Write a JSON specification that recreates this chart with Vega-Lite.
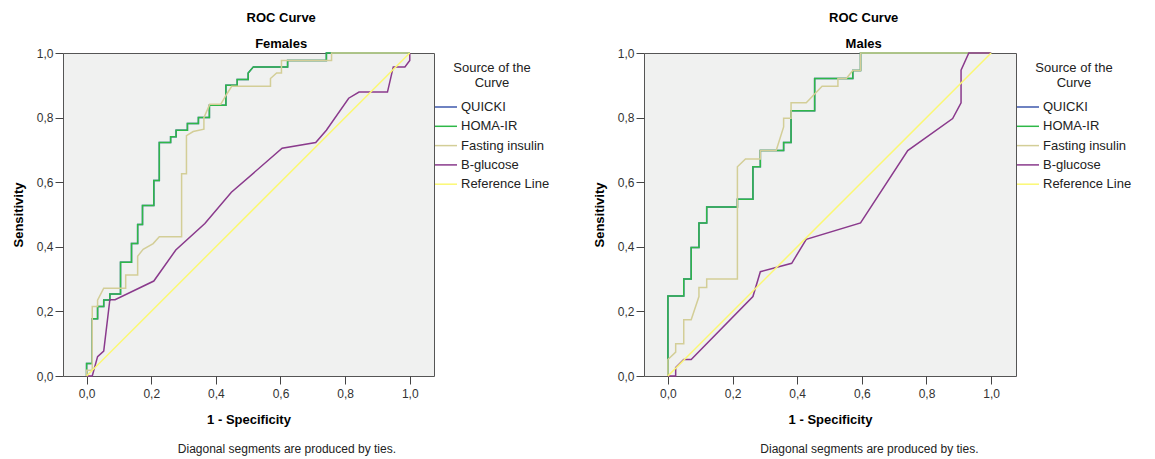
{
  "$schema": "https://vega.github.io/schema/vega-lite/v6.json",
  "padding": {"left": 11, "top": 11, "right": 5, "bottom": 2},
  "config": {
    "font": "Liberation Sans",
    "view": {"fill": "#F0F1F0", "stroke": "#555555", "strokeWidth": 1},
    "axis": {
      "labelFont": "Liberation Sans", "labelFontSize": 12, "labelColor": "#333333",
      "titleFont": "Liberation Sans", "titleFontSize": 13, "titleFontWeight": "bold", "titleColor": "#000000",
      "tickColor": "#444444", "tickSize": 8, "domain": false, "grid": false, "labelPadding": 2,
      "labelExpr": "replace(format(datum.value, '.1f'), '.', ',')"
    },
    "axisX": {"titlePadding": 14, "labelPadding": 4},
    "axisY": {"titlePadding": 11},
    "legend": {
      "orient": "none", "legendY": 9,
      "symbolType": "stroke", "symbolSize": 484, "symbolStrokeWidth": 1.5,
      "labelFont": "Liberation Sans", "labelFontSize": 13, "labelColor": "#222222", "labelOffset": 3,
      "titleFont": "Liberation Sans", "titleFontSize": 13, "titleFontWeight": "normal", "titleColor": "#222222",
      "titleAlign": "center", "titleAnchor": "middle", "titleLineHeight": 15, "titlePadding": 5,
      "rowPadding": 0.3, "padding": 0
    },
    "title": {"font": "Liberation Sans", "fontSize": 13, "fontWeight": "bold", "color": "#000000",
      "subtitleFont": "Liberation Sans", "subtitleFontSize": 13, "subtitleFontWeight": "bold", "subtitleColor": "#000000"}
  },
  "datasets": {
    "females": [
      {"s": "QUICKI", "i": 0, "x": 0, "y": 0}, {"s": "QUICKI", "i": 1, "x": 0, "y": 0.039}, {"s": "QUICKI", "i": 2, "x": 0.0175, "y": 0.039}, {"s": "QUICKI", "i": 3, "x": 0.0175, "y": 0.177}, {"s": "QUICKI", "i": 4, "x": 0.034, "y": 0.177}, {"s": "QUICKI", "i": 5, "x": 0.034, "y": 0.215}, {"s": "QUICKI", "i": 6, "x": 0.053, "y": 0.215}, {"s": "QUICKI", "i": 7, "x": 0.053, "y": 0.235}, {"s": "QUICKI", "i": 8, "x": 0.072, "y": 0.235}, {"s": "QUICKI", "i": 9, "x": 0.072, "y": 0.254}, {"s": "QUICKI", "i": 10, "x": 0.105, "y": 0.254}, {"s": "QUICKI", "i": 11, "x": 0.105, "y": 0.352}, {"s": "QUICKI", "i": 12, "x": 0.139, "y": 0.352}, {"s": "QUICKI", "i": 13, "x": 0.139, "y": 0.41}, {"s": "QUICKI", "i": 14, "x": 0.158, "y": 0.41}, {"s": "QUICKI", "i": 15, "x": 0.158, "y": 0.469}, {"s": "QUICKI", "i": 16, "x": 0.173, "y": 0.469}, {"s": "QUICKI", "i": 17, "x": 0.173, "y": 0.528}, {"s": "QUICKI", "i": 18, "x": 0.208, "y": 0.528}, {"s": "QUICKI", "i": 19, "x": 0.208, "y": 0.605}, {"s": "QUICKI", "i": 20, "x": 0.225, "y": 0.605}, {"s": "QUICKI", "i": 21, "x": 0.225, "y": 0.723}, {"s": "QUICKI", "i": 22, "x": 0.26, "y": 0.723}, {"s": "QUICKI", "i": 23, "x": 0.26, "y": 0.741}, {"s": "QUICKI", "i": 24, "x": 0.277, "y": 0.741}, {"s": "QUICKI", "i": 25, "x": 0.277, "y": 0.761}, {"s": "QUICKI", "i": 26, "x": 0.312, "y": 0.761}, {"s": "QUICKI", "i": 27, "x": 0.312, "y": 0.782}, {"s": "QUICKI", "i": 28, "x": 0.346, "y": 0.782}, {"s": "QUICKI", "i": 29, "x": 0.346, "y": 0.8}, {"s": "QUICKI", "i": 30, "x": 0.38, "y": 0.8}, {"s": "QUICKI", "i": 31, "x": 0.38, "y": 0.838}, {"s": "QUICKI", "i": 32, "x": 0.431, "y": 0.838}, {"s": "QUICKI", "i": 33, "x": 0.431, "y": 0.9}, {"s": "QUICKI", "i": 34, "x": 0.466, "y": 0.9}, {"s": "QUICKI", "i": 35, "x": 0.466, "y": 0.918}, {"s": "QUICKI", "i": 36, "x": 0.5, "y": 0.918}, {"s": "QUICKI", "i": 37, "x": 0.5, "y": 0.938}, {"s": "QUICKI", "i": 38, "x": 0.516, "y": 0.957}, {"s": "QUICKI", "i": 39, "x": 0.622, "y": 0.957}, {"s": "QUICKI", "i": 40, "x": 0.622, "y": 0.977}, {"s": "QUICKI", "i": 41, "x": 0.742, "y": 0.977}, {"s": "QUICKI", "i": 42, "x": 0.742, "y": 1}, {"s": "QUICKI", "i": 43, "x": 1, "y": 1},
      {"s": "HOMA-IR", "i": 0, "x": 0, "y": 0}, {"s": "HOMA-IR", "i": 1, "x": 0, "y": 0.039}, {"s": "HOMA-IR", "i": 2, "x": 0.0175, "y": 0.039}, {"s": "HOMA-IR", "i": 3, "x": 0.0175, "y": 0.177}, {"s": "HOMA-IR", "i": 4, "x": 0.034, "y": 0.177}, {"s": "HOMA-IR", "i": 5, "x": 0.034, "y": 0.215}, {"s": "HOMA-IR", "i": 6, "x": 0.053, "y": 0.215}, {"s": "HOMA-IR", "i": 7, "x": 0.053, "y": 0.235}, {"s": "HOMA-IR", "i": 8, "x": 0.072, "y": 0.235}, {"s": "HOMA-IR", "i": 9, "x": 0.072, "y": 0.254}, {"s": "HOMA-IR", "i": 10, "x": 0.105, "y": 0.254}, {"s": "HOMA-IR", "i": 11, "x": 0.105, "y": 0.352}, {"s": "HOMA-IR", "i": 12, "x": 0.139, "y": 0.352}, {"s": "HOMA-IR", "i": 13, "x": 0.139, "y": 0.41}, {"s": "HOMA-IR", "i": 14, "x": 0.158, "y": 0.41}, {"s": "HOMA-IR", "i": 15, "x": 0.158, "y": 0.469}, {"s": "HOMA-IR", "i": 16, "x": 0.173, "y": 0.469}, {"s": "HOMA-IR", "i": 17, "x": 0.173, "y": 0.528}, {"s": "HOMA-IR", "i": 18, "x": 0.208, "y": 0.528}, {"s": "HOMA-IR", "i": 19, "x": 0.208, "y": 0.605}, {"s": "HOMA-IR", "i": 20, "x": 0.225, "y": 0.605}, {"s": "HOMA-IR", "i": 21, "x": 0.225, "y": 0.723}, {"s": "HOMA-IR", "i": 22, "x": 0.26, "y": 0.723}, {"s": "HOMA-IR", "i": 23, "x": 0.26, "y": 0.741}, {"s": "HOMA-IR", "i": 24, "x": 0.277, "y": 0.741}, {"s": "HOMA-IR", "i": 25, "x": 0.277, "y": 0.761}, {"s": "HOMA-IR", "i": 26, "x": 0.312, "y": 0.761}, {"s": "HOMA-IR", "i": 27, "x": 0.312, "y": 0.782}, {"s": "HOMA-IR", "i": 28, "x": 0.346, "y": 0.782}, {"s": "HOMA-IR", "i": 29, "x": 0.346, "y": 0.8}, {"s": "HOMA-IR", "i": 30, "x": 0.38, "y": 0.8}, {"s": "HOMA-IR", "i": 31, "x": 0.38, "y": 0.838}, {"s": "HOMA-IR", "i": 32, "x": 0.431, "y": 0.838}, {"s": "HOMA-IR", "i": 33, "x": 0.431, "y": 0.9}, {"s": "HOMA-IR", "i": 34, "x": 0.466, "y": 0.9}, {"s": "HOMA-IR", "i": 35, "x": 0.466, "y": 0.918}, {"s": "HOMA-IR", "i": 36, "x": 0.5, "y": 0.918}, {"s": "HOMA-IR", "i": 37, "x": 0.5, "y": 0.938}, {"s": "HOMA-IR", "i": 38, "x": 0.516, "y": 0.957}, {"s": "HOMA-IR", "i": 39, "x": 0.622, "y": 0.957}, {"s": "HOMA-IR", "i": 40, "x": 0.622, "y": 0.977}, {"s": "HOMA-IR", "i": 41, "x": 0.742, "y": 0.977}, {"s": "HOMA-IR", "i": 42, "x": 0.742, "y": 1}, {"s": "HOMA-IR", "i": 43, "x": 1, "y": 1},
      {"s": "Fasting insulin", "i": 0, "x": 0, "y": 0}, {"s": "Fasting insulin", "i": 1, "x": 0, "y": 0.018}, {"s": "Fasting insulin", "i": 2, "x": 0.0175, "y": 0.018}, {"s": "Fasting insulin", "i": 3, "x": 0.0175, "y": 0.215}, {"s": "Fasting insulin", "i": 4, "x": 0.034, "y": 0.215}, {"s": "Fasting insulin", "i": 5, "x": 0.034, "y": 0.235}, {"s": "Fasting insulin", "i": 6, "x": 0.053, "y": 0.272}, {"s": "Fasting insulin", "i": 7, "x": 0.121, "y": 0.272}, {"s": "Fasting insulin", "i": 8, "x": 0.121, "y": 0.313}, {"s": "Fasting insulin", "i": 9, "x": 0.158, "y": 0.313}, {"s": "Fasting insulin", "i": 10, "x": 0.158, "y": 0.371}, {"s": "Fasting insulin", "i": 11, "x": 0.175, "y": 0.392}, {"s": "Fasting insulin", "i": 12, "x": 0.206, "y": 0.41}, {"s": "Fasting insulin", "i": 13, "x": 0.225, "y": 0.431}, {"s": "Fasting insulin", "i": 14, "x": 0.294, "y": 0.431}, {"s": "Fasting insulin", "i": 15, "x": 0.294, "y": 0.626}, {"s": "Fasting insulin", "i": 16, "x": 0.309, "y": 0.626}, {"s": "Fasting insulin", "i": 17, "x": 0.309, "y": 0.744}, {"s": "Fasting insulin", "i": 18, "x": 0.33, "y": 0.757}, {"s": "Fasting insulin", "i": 19, "x": 0.363, "y": 0.764}, {"s": "Fasting insulin", "i": 20, "x": 0.363, "y": 0.8}, {"s": "Fasting insulin", "i": 21, "x": 0.381, "y": 0.841}, {"s": "Fasting insulin", "i": 22, "x": 0.415, "y": 0.841}, {"s": "Fasting insulin", "i": 23, "x": 0.432, "y": 0.87}, {"s": "Fasting insulin", "i": 24, "x": 0.449, "y": 0.897}, {"s": "Fasting insulin", "i": 25, "x": 0.569, "y": 0.897}, {"s": "Fasting insulin", "i": 26, "x": 0.569, "y": 0.921}, {"s": "Fasting insulin", "i": 27, "x": 0.588, "y": 0.938}, {"s": "Fasting insulin", "i": 28, "x": 0.603, "y": 0.938}, {"s": "Fasting insulin", "i": 29, "x": 0.603, "y": 0.977}, {"s": "Fasting insulin", "i": 30, "x": 0.758, "y": 0.977}, {"s": "Fasting insulin", "i": 31, "x": 0.758, "y": 1}, {"s": "Fasting insulin", "i": 32, "x": 1, "y": 1},
      {"s": "B-glucose", "i": 0, "x": 0, "y": 0}, {"s": "B-glucose", "i": 1, "x": 0.0175, "y": 0}, {"s": "B-glucose", "i": 2, "x": 0.034, "y": 0.06}, {"s": "B-glucose", "i": 3, "x": 0.053, "y": 0.077}, {"s": "B-glucose", "i": 4, "x": 0.072, "y": 0.236}, {"s": "B-glucose", "i": 5, "x": 0.088, "y": 0.236}, {"s": "B-glucose", "i": 6, "x": 0.208, "y": 0.294}, {"s": "B-glucose", "i": 7, "x": 0.276, "y": 0.39}, {"s": "B-glucose", "i": 8, "x": 0.366, "y": 0.472}, {"s": "B-glucose", "i": 9, "x": 0.448, "y": 0.569}, {"s": "B-glucose", "i": 10, "x": 0.605, "y": 0.705}, {"s": "B-glucose", "i": 11, "x": 0.709, "y": 0.723}, {"s": "B-glucose", "i": 12, "x": 0.742, "y": 0.761}, {"s": "B-glucose", "i": 13, "x": 0.811, "y": 0.86}, {"s": "B-glucose", "i": 14, "x": 0.843, "y": 0.879}, {"s": "B-glucose", "i": 15, "x": 0.931, "y": 0.879}, {"s": "B-glucose", "i": 16, "x": 0.949, "y": 0.957}, {"s": "B-glucose", "i": 17, "x": 0.985, "y": 0.957}, {"s": "B-glucose", "i": 18, "x": 1, "y": 0.977}, {"s": "B-glucose", "i": 19, "x": 1, "y": 1},
      {"s": "Reference Line", "i": 0, "x": 0, "y": 0}, {"s": "Reference Line", "i": 1, "x": 1, "y": 1}
    ],
    "males": [
      {"s": "QUICKI", "i": 0, "x": 0, "y": 0}, {"s": "QUICKI", "i": 1, "x": 0, "y": 0.248}, {"s": "QUICKI", "i": 2, "x": 0.049, "y": 0.248}, {"s": "QUICKI", "i": 3, "x": 0.049, "y": 0.3}, {"s": "QUICKI", "i": 4, "x": 0.072, "y": 0.3}, {"s": "QUICKI", "i": 5, "x": 0.072, "y": 0.398}, {"s": "QUICKI", "i": 6, "x": 0.096, "y": 0.398}, {"s": "QUICKI", "i": 7, "x": 0.096, "y": 0.474}, {"s": "QUICKI", "i": 8, "x": 0.12, "y": 0.474}, {"s": "QUICKI", "i": 9, "x": 0.12, "y": 0.523}, {"s": "QUICKI", "i": 10, "x": 0.215, "y": 0.523}, {"s": "QUICKI", "i": 11, "x": 0.215, "y": 0.547}, {"s": "QUICKI", "i": 12, "x": 0.263, "y": 0.547}, {"s": "QUICKI", "i": 13, "x": 0.263, "y": 0.648}, {"s": "QUICKI", "i": 14, "x": 0.286, "y": 0.648}, {"s": "QUICKI", "i": 15, "x": 0.286, "y": 0.698}, {"s": "QUICKI", "i": 16, "x": 0.358, "y": 0.698}, {"s": "QUICKI", "i": 17, "x": 0.358, "y": 0.723}, {"s": "QUICKI", "i": 18, "x": 0.381, "y": 0.723}, {"s": "QUICKI", "i": 19, "x": 0.381, "y": 0.821}, {"s": "QUICKI", "i": 20, "x": 0.454, "y": 0.821}, {"s": "QUICKI", "i": 21, "x": 0.454, "y": 0.921}, {"s": "QUICKI", "i": 22, "x": 0.572, "y": 0.921}, {"s": "QUICKI", "i": 23, "x": 0.572, "y": 0.946}, {"s": "QUICKI", "i": 24, "x": 0.596, "y": 0.946}, {"s": "QUICKI", "i": 25, "x": 0.596, "y": 1}, {"s": "QUICKI", "i": 26, "x": 1, "y": 1},
      {"s": "HOMA-IR", "i": 0, "x": 0, "y": 0}, {"s": "HOMA-IR", "i": 1, "x": 0, "y": 0.248}, {"s": "HOMA-IR", "i": 2, "x": 0.049, "y": 0.248}, {"s": "HOMA-IR", "i": 3, "x": 0.049, "y": 0.3}, {"s": "HOMA-IR", "i": 4, "x": 0.072, "y": 0.3}, {"s": "HOMA-IR", "i": 5, "x": 0.072, "y": 0.398}, {"s": "HOMA-IR", "i": 6, "x": 0.096, "y": 0.398}, {"s": "HOMA-IR", "i": 7, "x": 0.096, "y": 0.474}, {"s": "HOMA-IR", "i": 8, "x": 0.12, "y": 0.474}, {"s": "HOMA-IR", "i": 9, "x": 0.12, "y": 0.523}, {"s": "HOMA-IR", "i": 10, "x": 0.215, "y": 0.523}, {"s": "HOMA-IR", "i": 11, "x": 0.215, "y": 0.547}, {"s": "HOMA-IR", "i": 12, "x": 0.263, "y": 0.547}, {"s": "HOMA-IR", "i": 13, "x": 0.263, "y": 0.648}, {"s": "HOMA-IR", "i": 14, "x": 0.286, "y": 0.648}, {"s": "HOMA-IR", "i": 15, "x": 0.286, "y": 0.698}, {"s": "HOMA-IR", "i": 16, "x": 0.358, "y": 0.698}, {"s": "HOMA-IR", "i": 17, "x": 0.358, "y": 0.723}, {"s": "HOMA-IR", "i": 18, "x": 0.381, "y": 0.723}, {"s": "HOMA-IR", "i": 19, "x": 0.381, "y": 0.821}, {"s": "HOMA-IR", "i": 20, "x": 0.454, "y": 0.821}, {"s": "HOMA-IR", "i": 21, "x": 0.454, "y": 0.921}, {"s": "HOMA-IR", "i": 22, "x": 0.572, "y": 0.921}, {"s": "HOMA-IR", "i": 23, "x": 0.572, "y": 0.946}, {"s": "HOMA-IR", "i": 24, "x": 0.596, "y": 0.946}, {"s": "HOMA-IR", "i": 25, "x": 0.596, "y": 1}, {"s": "HOMA-IR", "i": 26, "x": 1, "y": 1},
      {"s": "Fasting insulin", "i": 0, "x": 0, "y": 0}, {"s": "Fasting insulin", "i": 1, "x": 0, "y": 0.051}, {"s": "Fasting insulin", "i": 2, "x": 0.024, "y": 0.074}, {"s": "Fasting insulin", "i": 3, "x": 0.024, "y": 0.1}, {"s": "Fasting insulin", "i": 4, "x": 0.049, "y": 0.1}, {"s": "Fasting insulin", "i": 5, "x": 0.049, "y": 0.174}, {"s": "Fasting insulin", "i": 6, "x": 0.072, "y": 0.174}, {"s": "Fasting insulin", "i": 7, "x": 0.096, "y": 0.246}, {"s": "Fasting insulin", "i": 8, "x": 0.096, "y": 0.274}, {"s": "Fasting insulin", "i": 9, "x": 0.12, "y": 0.274}, {"s": "Fasting insulin", "i": 10, "x": 0.12, "y": 0.3}, {"s": "Fasting insulin", "i": 11, "x": 0.215, "y": 0.3}, {"s": "Fasting insulin", "i": 12, "x": 0.215, "y": 0.648}, {"s": "Fasting insulin", "i": 13, "x": 0.24, "y": 0.672}, {"s": "Fasting insulin", "i": 14, "x": 0.286, "y": 0.672}, {"s": "Fasting insulin", "i": 15, "x": 0.286, "y": 0.698}, {"s": "Fasting insulin", "i": 16, "x": 0.335, "y": 0.698}, {"s": "Fasting insulin", "i": 17, "x": 0.358, "y": 0.771}, {"s": "Fasting insulin", "i": 18, "x": 0.358, "y": 0.798}, {"s": "Fasting insulin", "i": 19, "x": 0.381, "y": 0.798}, {"s": "Fasting insulin", "i": 20, "x": 0.381, "y": 0.846}, {"s": "Fasting insulin", "i": 21, "x": 0.428, "y": 0.846}, {"s": "Fasting insulin", "i": 22, "x": 0.477, "y": 0.897}, {"s": "Fasting insulin", "i": 23, "x": 0.526, "y": 0.897}, {"s": "Fasting insulin", "i": 24, "x": 0.526, "y": 0.921}, {"s": "Fasting insulin", "i": 25, "x": 0.552, "y": 0.921}, {"s": "Fasting insulin", "i": 26, "x": 0.572, "y": 0.946}, {"s": "Fasting insulin", "i": 27, "x": 0.596, "y": 0.946}, {"s": "Fasting insulin", "i": 28, "x": 0.596, "y": 1}, {"s": "Fasting insulin", "i": 29, "x": 1, "y": 1},
      {"s": "B-glucose", "i": 0, "x": 0, "y": 0}, {"s": "B-glucose", "i": 1, "x": 0.024, "y": 0}, {"s": "B-glucose", "i": 2, "x": 0.024, "y": 0.026}, {"s": "B-glucose", "i": 3, "x": 0.049, "y": 0.051}, {"s": "B-glucose", "i": 4, "x": 0.072, "y": 0.051}, {"s": "B-glucose", "i": 5, "x": 0.263, "y": 0.246}, {"s": "B-glucose", "i": 6, "x": 0.286, "y": 0.323}, {"s": "B-glucose", "i": 7, "x": 0.383, "y": 0.349}, {"s": "B-glucose", "i": 8, "x": 0.428, "y": 0.423}, {"s": "B-glucose", "i": 9, "x": 0.596, "y": 0.474}, {"s": "B-glucose", "i": 10, "x": 0.742, "y": 0.698}, {"s": "B-glucose", "i": 11, "x": 0.881, "y": 0.797}, {"s": "B-glucose", "i": 12, "x": 0.907, "y": 0.846}, {"s": "B-glucose", "i": 13, "x": 0.907, "y": 0.947}, {"s": "B-glucose", "i": 14, "x": 0.931, "y": 1}, {"s": "B-glucose", "i": 15, "x": 1, "y": 1},
      {"s": "Reference Line", "i": 0, "x": 0, "y": 0}, {"s": "Reference Line", "i": 1, "x": 1, "y": 1}
    ]
  },
  "spacing": 42,
  "hconcat": [
    {
      "title": {"text": "Diagonal segments are produced by ties.", "orient": "bottom", "anchor": "middle", "frame": "bounds", "fontSize": 12, "fontWeight": "normal", "color": "#222222", "offset": 17, "dx": 6},
      "vconcat": [
        {
          "width": 371, "height": 323,
          "data": {"name": "females"},
          "title": {"text": "ROC Curve", "subtitle": "Females", "anchor": "middle", "frame": "bounds", "offset": -4, "subtitlePadding": 13, "dx": 58},
          "mark": {"type": "line", "strokeWidth": 1.5},
          "encoding": {
            "x": {"field": "x", "type": "quantitative", "title": "1 - Specificity", "scale": {"domain": [-0.073, 1.075], "nice": false, "zero": false}, "axis": {"values": [0, 0.2, 0.4, 0.6, 0.8, 1.0]}},
            "y": {"field": "y", "type": "quantitative", "title": "Sensitivity", "scale": {"domain": [0, 1], "nice": false}, "axis": {"values": [0, 0.2, 0.4, 0.6, 0.8, 1.0]}},
            "color": {"field": "s", "type": "nominal",
              "scale": {"domain": ["QUICKI", "HOMA-IR", "Fasting insulin", "B-glucose", "Reference Line"], "range": ["#3E58AC", "#2EB848", "#D3CE97", "#8A3A8C", "#FBF873"]},
              "legend": {"title": ["Source of the", "Curve"], "legendX": 371}},
            "order": {"field": "i", "type": "quantitative"}
          }
        }
      ]
    },
    {
      "title": {"text": "Diagonal segments are produced by ties.", "orient": "bottom", "anchor": "middle", "frame": "bounds", "fontSize": 12, "fontWeight": "normal", "color": "#222222", "offset": 17, "dx": 7},
      "vconcat": [
        {
          "width": 372, "height": 323,
          "data": {"name": "males"},
          "title": {"text": "ROC Curve", "subtitle": "Males", "anchor": "middle", "frame": "bounds", "offset": -4, "subtitlePadding": 13, "dx": 59},
          "mark": {"type": "line", "strokeWidth": 1.5},
          "encoding": {
            "x": {"field": "x", "type": "quantitative", "title": "1 - Specificity", "scale": {"domain": [-0.074, 1.077], "nice": false, "zero": false}, "axis": {"values": [0, 0.2, 0.4, 0.6, 0.8, 1.0]}},
            "y": {"field": "y", "type": "quantitative", "title": "Sensitivity", "scale": {"domain": [0, 1], "nice": false}, "axis": {"values": [0, 0.2, 0.4, 0.6, 0.8, 1.0]}},
            "color": {"field": "s", "type": "nominal",
              "scale": {"domain": ["QUICKI", "HOMA-IR", "Fasting insulin", "B-glucose", "Reference Line"], "range": ["#3E58AC", "#2EB848", "#D3CE97", "#8A3A8C", "#FBF873"]},
              "legend": {"title": ["Source of the", "Curve"], "legendX": 372}},
            "order": {"field": "i", "type": "quantitative"}
          }
        }
      ]
    }
  ],
  "resolve": {"scale": {"color": "independent"}, "legend": {"color": "independent"}}
}
